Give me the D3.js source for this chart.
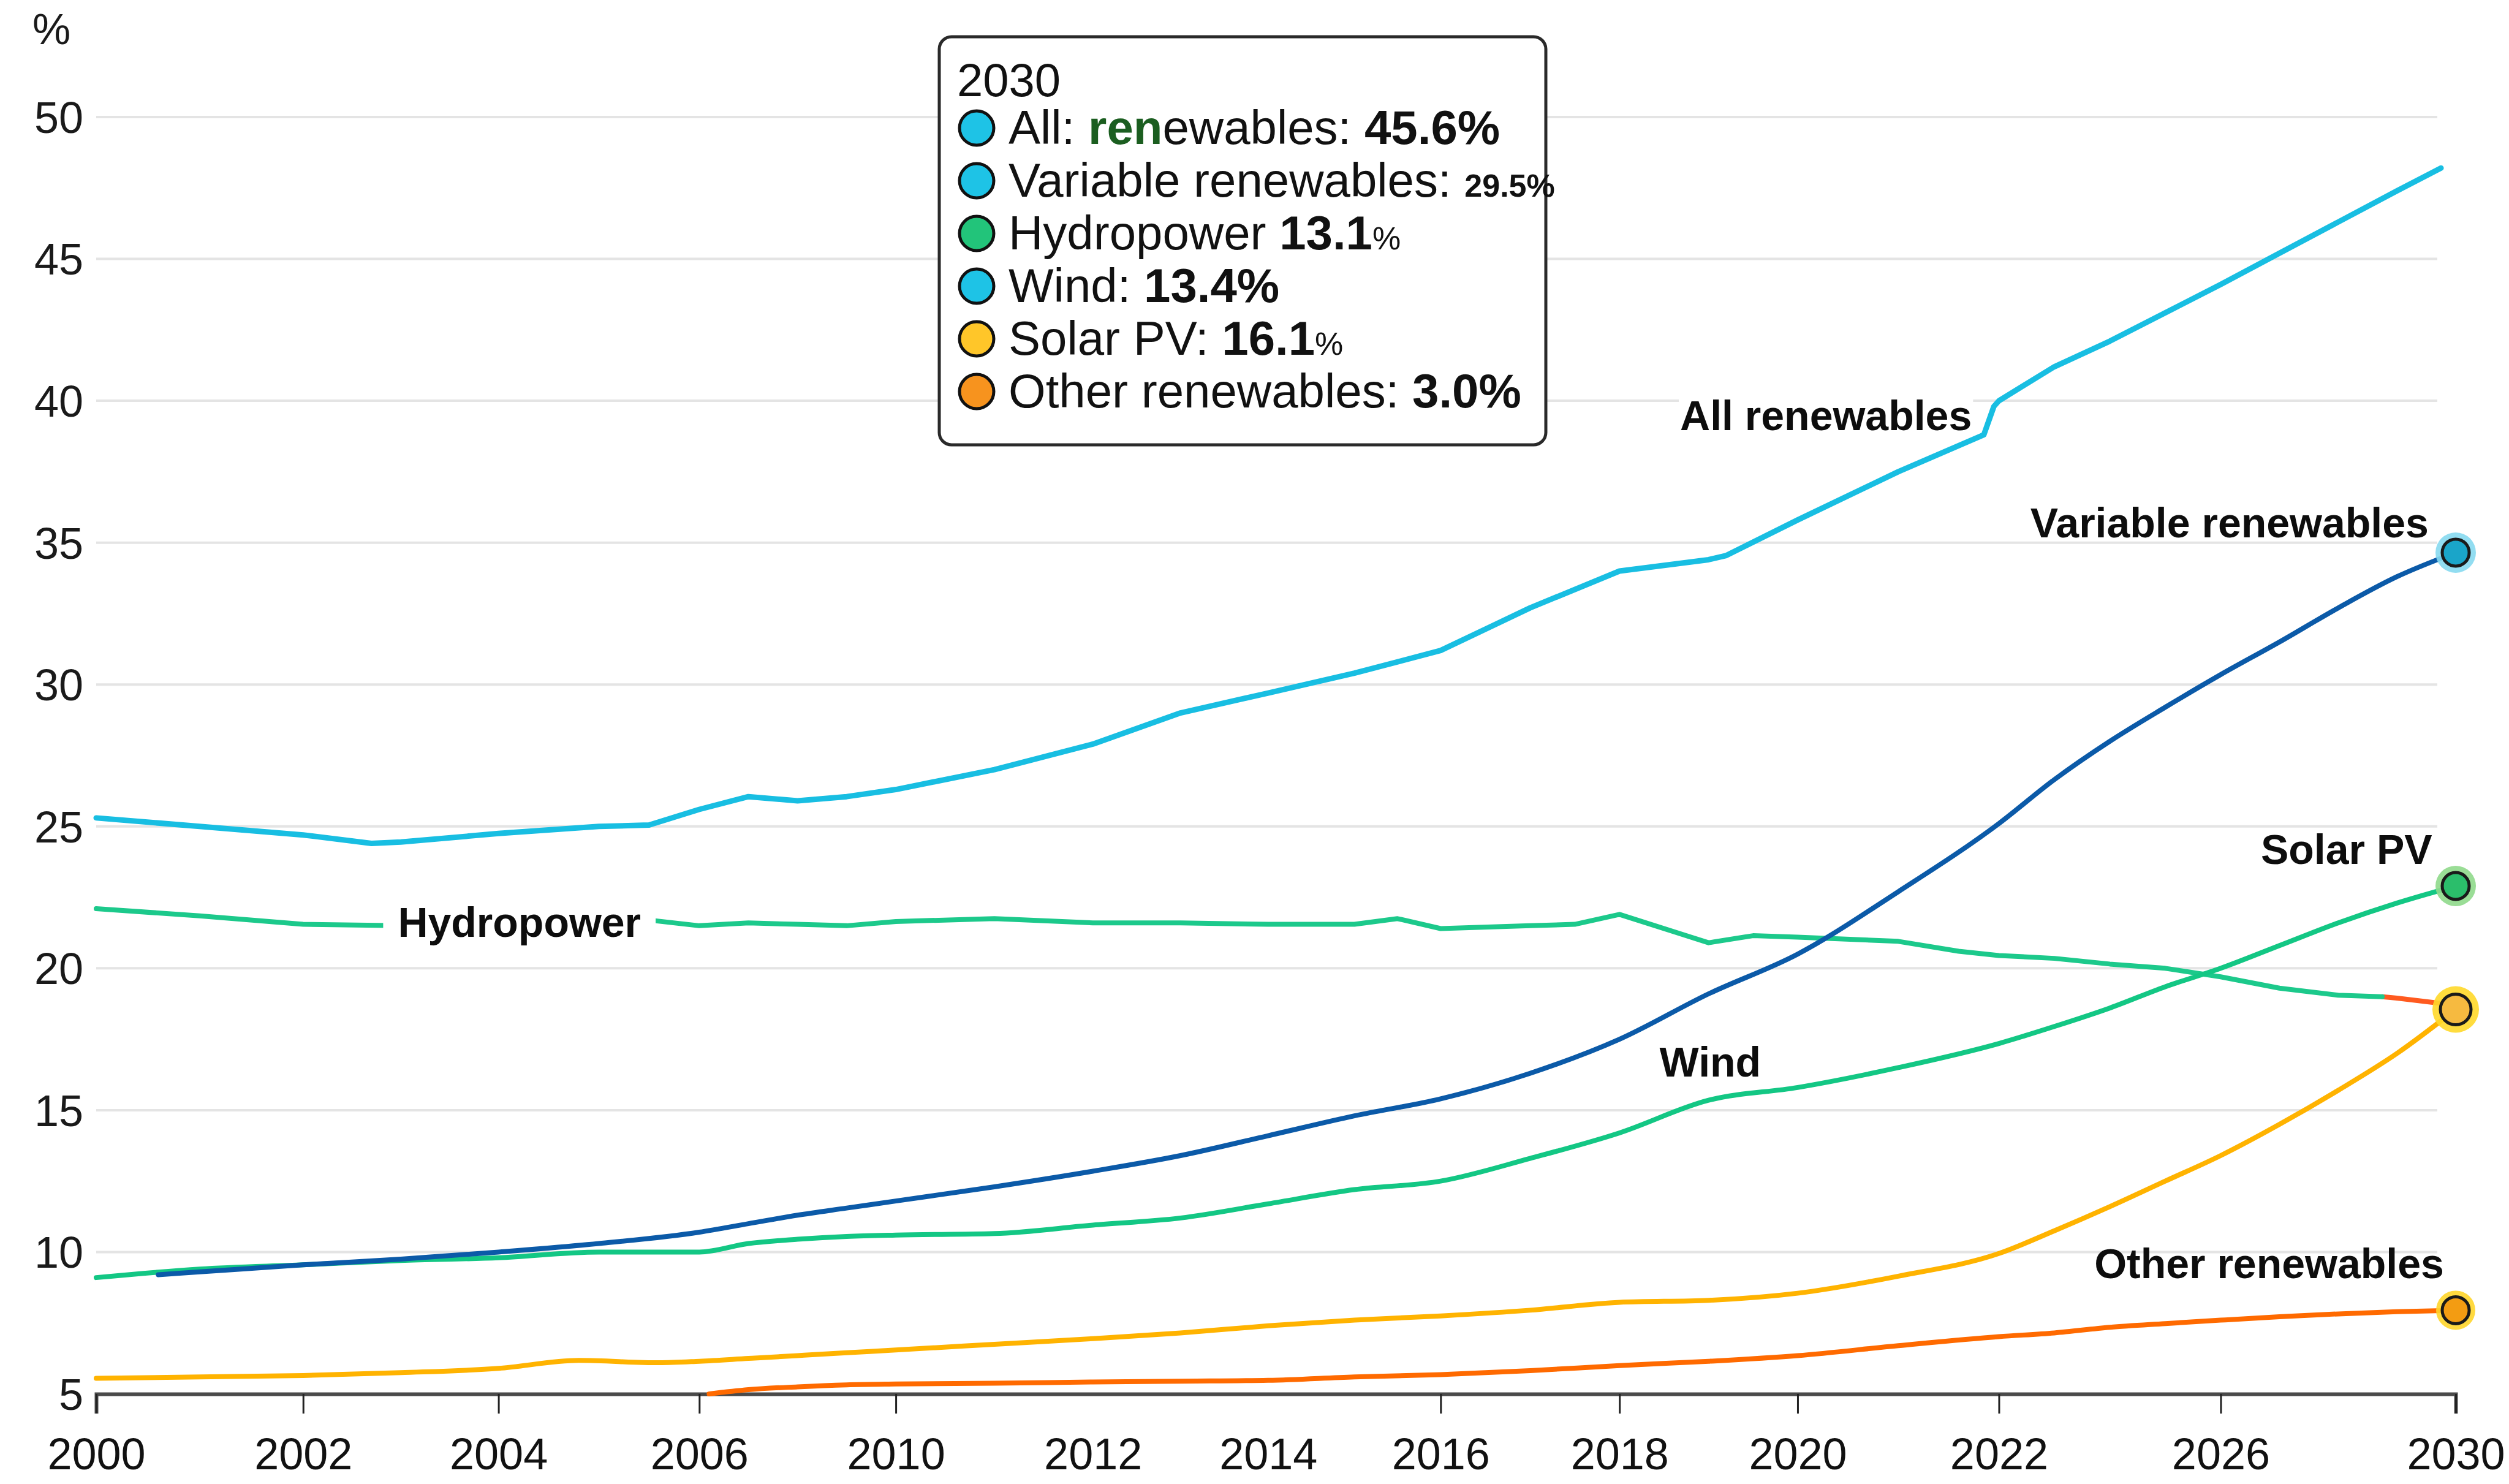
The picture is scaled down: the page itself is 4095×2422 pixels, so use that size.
<!DOCTYPE html>
<html><head><meta charset="utf-8">
<script src="https://cdn.jsdelivr.net/npm/d3@7/dist/d3.min.js"></script>
<style>html,body{margin:0;padding:0;background:#fff}svg{display:block}</style>
</head><body>
<svg id="chart" width="4095" height="2422"></svg>
<script>
// ---------------- DATA ----------------
const xTickYears  = [2000,2002,2004,2006,2010,2012,2014,2016,2018,2020,2022,2026,2030];
const xTickLabels = ["2000","2002","2004","2006","2010","2012","2014","2016","2018","2020","2022","2026","2030"];
const xTickMarked = [true,true,true,true,true,false,false,true,true,true,true,true,true];
const yTicks = [5,10,15,20,25,30,35,40,45,50];

const allYears  = [2000,2001,2002,2002.7,2003,2004,2005,2005.5,2006,2007,2008,2009,2010,2011,2012,2013,2014,2015,2016,2017,2018,2019,2019.2,2020,2021,2021.85,2021.95,2022,2023,2024,2025,2026,2027,2028,2029,2029.75];
const allValues = [25.3,25.0,24.7,24.4,24.45,24.75,25.0,25.05,25.6,26.05,25.9,26.05,26.3,27.0,27.9,29.0,29.7,30.4,31.2,32.7,34.0,34.4,34.55,35.8,37.5,38.8,39.8,40.0,41.2,42.1,43.1,44.1,45.2,46.3,47.4,48.2];

const variableYears  = [2000.6,2001,2002,2003,2004,2005,2006,2007,2008,2009,2010,2011,2012,2013,2014,2015,2016,2017,2018,2019,2020,2021,2022,2023,2024,2025,2026,2027,2028,2029,2030];
const variableValues = [9.2,9.3,9.55,9.75,10.0,10.3,10.7,11.0,11.3,11.55,11.8,12.3,12.85,13.4,14.1,14.8,15.4,16.3,17.5,19.1,20.5,22.7,25.1,26.65,28.0,29.2,30.35,31.5,32.7,33.8,34.65];

const hydroYears  = [2000,2001,2002,2003,2004,2005,2005.5,2006,2007,2008,2009,2010,2011,2012,2013,2014,2015,2015.5,2016,2017,2017.5,2018,2019,2019.5,2020,2021,2021.6,2022,2023,2024,2025,2026,2027,2028,2028.75,2029,2030];
const hydroValues = [22.1,21.85,21.55,21.5,21.5,21.55,21.7,21.5,21.6,21.55,21.5,21.65,21.75,21.6,21.6,21.55,21.55,21.75,21.4,21.5,21.55,21.9,20.9,21.15,21.1,20.95,20.6,20.45,20.35,20.15,20.0,19.7,19.3,19.05,19.0,18.95,18.7];

const windYears  = [2000,2001,2002,2003,2004,2005,2006,2007,2008,2009,2010,2011,2012,2013,2014,2015,2016,2017,2018,2019,2020,2021,2022,2023,2024,2025,2026,2027,2028,2029,2030];
const windValues = [9.1,9.4,9.55,9.7,9.8,10.0,10.0,10.3,10.45,10.55,10.6,10.65,10.95,11.2,11.7,12.2,12.5,13.3,14.2,15.35,15.8,16.5,17.35,17.95,18.6,19.35,20.0,20.8,21.6,22.3,22.9];

const solarYears  = [2000,2001,2002,2003,2004,2004.8,2005.6,2006,2007,2008,2009,2010,2011,2012,2013,2014,2015,2016,2017,2018,2019,2020,2021,2022,2023,2024,2025,2026,2027,2028,2029,2030];
const solarValues = [5.55,5.6,5.65,5.75,5.9,6.18,6.1,6.15,6.25,6.35,6.45,6.55,6.75,6.95,7.15,7.4,7.6,7.75,7.95,8.23,8.3,8.55,9.15,9.95,10.75,11.6,12.5,13.4,14.5,15.7,17.0,18.55];

const otherYears  = [2006.2,2007,2008,2009,2010,2011,2012,2013,2014,2015,2016,2017,2018,2019,2020,2021,2022,2023,2024,2025,2026,2027,2028,2029,2030];
const otherValues = [5.0,5.15,5.25,5.32,5.35,5.38,5.42,5.45,5.48,5.6,5.68,5.82,6.0,6.15,6.35,6.7,7.02,7.15,7.35,7.48,7.6,7.72,7.82,7.9,7.95];

const legendTitle = "2030";
const legendRows = [
  {color:"#1EC3E6", parts:[["All: ","n"],["ren","g"],["ewables: ","n"],["45.6%","b"]]},
  {color:"#1EC3E6", parts:[["Variable renewables: ","n"],["29.5%","bs"]]},
  {color:"#22C47A", parts:[["Hydropower ","n"],["13.1","b"],["%","s"]]},
  {color:"#1EC3E6", parts:[["Wind: ","n"],["13.4%","b"]]},
  {color:"#FFC629", parts:[["Solar PV: ","n"],["16.1","b"],["%","s"]]},
  {color:"#F7931E", parts:[["Other renewables: ","n"],["3.0%","b"]]}
];

// annotations: [text, anchor year, anchor value, text-anchor, white background padding]
const annotations = [
  ["All renewables", 2018.68, 39.5, "start", 2],
  ["Variable renewables", 2029.54, 35.72, "end", 0],
  ["Solar PV", 2029.6, 24.2, "end", 0],
  ["Other renewables", 2029.8, 9.62, "end", 0],
  ["Hydropower", 2002.97, 21.63, "start", 24],
  ["Wind", 2018.45, 16.72, "start", 0]
];

// ---------------- LAYOUT ----------------
const X0 = 157, X1 = 4008, YTOP = 191, YBOT = 2275;
const xTickFrac = [0,0.0877,0.1705,0.2556,0.3389,0.4224,0.4967,0.5698,0.6456,0.7211,0.8064,0.9004,1];
const FONT = "'Liberation Sans', Arial, Helvetica, sans-serif";

const svg = d3.select("#chart");
const x = d3.scaleLinear().domain(xTickYears).range(xTickFrac.map(f => X0 + f*(X1-X0)));
const y = d3.scaleLinear().domain([5,50]).range([YBOT, YTOP]);

// gridlines
svg.append("g").selectAll("line").data(yTicks.filter(v => v > 5)).join("line")
  .attr("x1", X0).attr("x2", X1 - 30)
  .attr("y1", d => y(d)).attr("y2", d => y(d))
  .attr("stroke", "#E4E4E4").attr("stroke-width", 4);

// y labels
svg.append("g").selectAll("text").data(yTicks).join("text")
  .attr("x", 136).attr("y", d => y(d)).attr("dy", "0.36em")
  .attr("text-anchor", "end").attr("font-family", FONT).attr("font-size", 72).attr("fill", "#1a1a1a")
  .text(d => d);
svg.append("text").attr("x", 84).attr("y", 47).attr("dy","0.36em").attr("text-anchor","middle")
  .attr("font-family", FONT).attr("font-size", 70).attr("fill","#1a1a1a").text("%");

// x axis
const xAxis = d3.axisBottom(x).tickValues(xTickYears).tickFormat((d,i) => xTickLabels[i]).tickSizeOuter(0).tickSize(32).tickPadding(40);
const gx = svg.append("g").attr("transform", `translate(0,${YBOT})`).call(xAxis);
gx.select(".domain").attr("stroke", "#4a4a4a").attr("stroke-width", 6);
gx.selectAll(".tick line").attr("stroke", "#222").attr("stroke-width", 3)
  .attr("display", (d,i) => xTickMarked[i] ? null : "none");
gx.selectAll(".tick text").attr("font-family", FONT).attr("font-size", 72).attr("fill", "#111");

// lines
const mk = (ys, vs) => ys.map((yr, i) => ({yr, v: vs[i]}));
function drawLine(pts, color, width, curve) {
  const gen = d3.line().x(d => x(d.yr)).y(d => y(d.v)).curve(curve);
  svg.append("path").datum(pts).attr("d", gen).attr("fill", "none")
    .attr("stroke", color).attr("stroke-width", width)
    .attr("stroke-linejoin", "round").attr("stroke-linecap", "round");
}
const hydroPts = mk(hydroYears, hydroValues);
drawLine(mk(otherYears, otherValues), "#FF6A00", 8, d3.curveMonotoneX);
drawLine(mk(solarYears, solarValues), "#FFB300", 8, d3.curveMonotoneX);
drawLine(hydroPts.filter(d => d.yr >= 2028.75), "#FF5A1F", 8, d3.curveLinear);
drawLine(hydroPts.filter(d => d.yr <= 2028.75), "#1CC98B", 8, d3.curveLinear);
drawLine(mk(windYears, windValues), "#13C784", 8, d3.curveMonotoneX);
drawLine(mk(variableYears, variableValues), "#0B5AA8", 8, d3.curveMonotoneX);
drawLine(mk(allYears, allValues), "#18BEE2", 9, d3.curveLinear);

// end markers
function marker(yr, v, fill, halo, r, rh) {
  svg.append("circle").attr("cx", x(yr)).attr("cy", y(v)).attr("r", rh).attr("fill", halo).attr("opacity", 0.9);
  svg.append("circle").attr("cx", x(yr)).attr("cy", y(v)).attr("r", r).attr("fill", fill)
    .attr("stroke", "#1a1a1a").attr("stroke-width", 5);
}
const last = (ys, vs) => [ys[ys.length-1], vs[vs.length-1]];
marker(...last(variableYears, variableValues), "#1AA5C9", "#86D9EF", 22, 33);
marker(...last(windYears, windValues), "#2BBE6B", "#8FD98B", 22, 33);
marker(...last(solarYears, solarValues), "#F6BA40", "#FFD829", 25, 38);
marker(...last(otherYears, otherValues), "#F39C12", "#FFD52A", 22, 32);

// annotations
annotations.forEach(([t, yr, v, anchor, pad]) => {
  const g = svg.append("g");
  const txt = g.append("text").attr("x", x(yr)).attr("y", y(v)).attr("dy", "0.36em")
    .attr("text-anchor", anchor).attr("font-family", FONT).attr("font-weight", "bold")
    .attr("font-size", 68).attr("fill", "#0d0d0d").text(t);
  if (pad > 0) {
    const b = txt.node().getBBox();
    g.insert("rect", "text").attr("x", b.x - pad).attr("y", b.y + 6).attr("width", b.width + 2*pad)
      .attr("height", b.height - 12).attr("fill", "#fff");
  }
});

// legend
const LX = 1533, LY = 60, LW = 990, LH = 666;
const lg = svg.append("g");
lg.append("rect").attr("x", LX).attr("y", LY).attr("width", LW).attr("height", LH)
  .attr("rx", 20).attr("fill", "#fff").attr("stroke", "#2a2a2a").attr("stroke-width", 5);
lg.append("text").attr("x", LX + 29).attr("y", LY + 97).attr("font-family", FONT)
  .attr("font-size", 76).attr("fill", "#111").text(legendTitle);
legendRows.forEach((row, i) => {
  const by = LY + 175 + i * 86;
  lg.append("circle").attr("cx", LX + 61).attr("cy", by - 26).attr("r", 28)
    .attr("fill", row.color).attr("stroke", "#111").attr("stroke-width", 5);
  const t = lg.append("text").attr("x", LX + 113).attr("y", by).attr("font-family", FONT)
    .attr("font-size", 78).attr("fill", "#111");
  row.parts.forEach(([s, k]) => {
    const ts = t.append("tspan").text(s);
    if (k === "b") ts.attr("font-weight", "bold");
    if (k === "g") ts.attr("font-weight", "bold").attr("fill", "#1B5E20");
    if (k === "bs") ts.attr("font-weight", "bold").attr("font-size", 52);
    if (k === "s") ts.attr("font-size", 52);
  });
});
</script>
</body></html>
